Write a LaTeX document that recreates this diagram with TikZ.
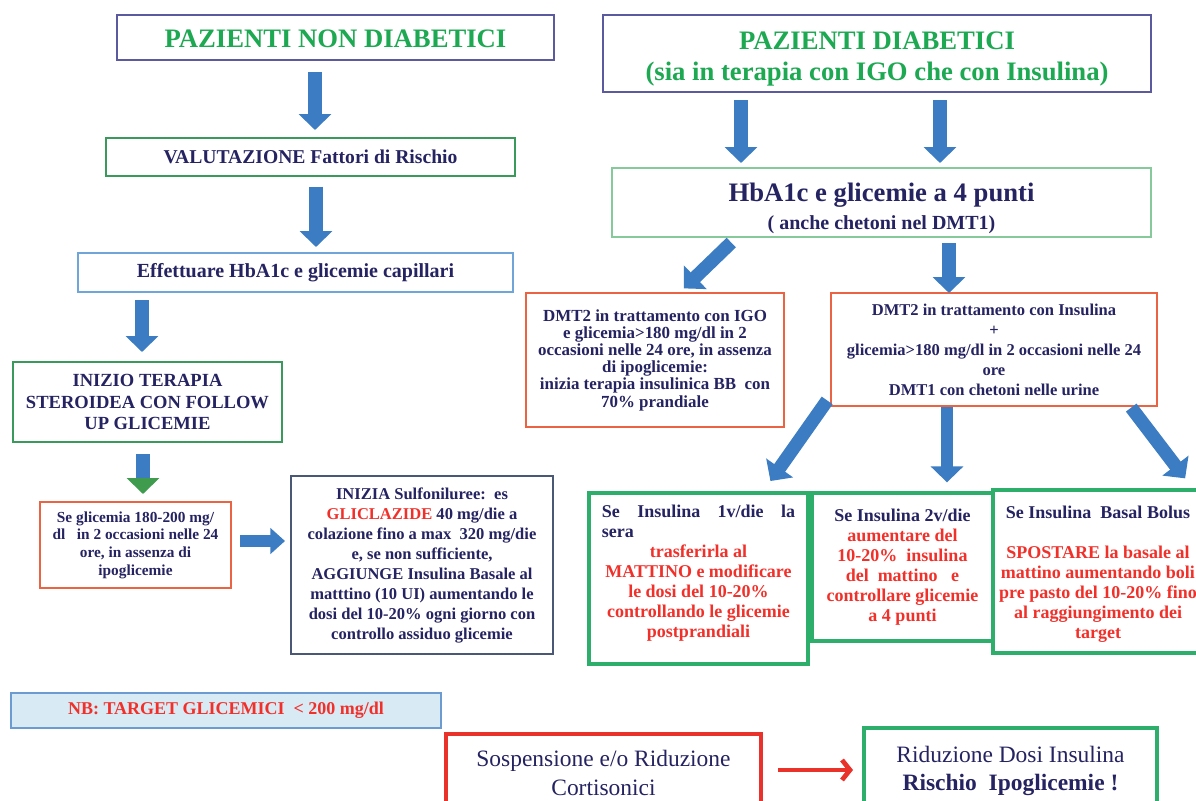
\documentclass[tikz,border=0pt]{standalone}
\usepackage{fontspec}
\setmainfont{Liberation Serif}
\setsansfont{Liberation Sans}
\usetikzlibrary{arrows.meta}
\definecolor{navy}{HTML}{252361}
\definecolor{tgreen}{HTML}{1DA852}
\definecolor{purpleb}{HTML}{5C5A9E}
\definecolor{greenb}{HTML}{3A9A5C}
\definecolor{lgreenb}{HTML}{86C99B}
\definecolor{blueb}{HTML}{6FA5D8}
\definecolor{orangeb}{HTML}{EA6444}
\definecolor{slateb}{HTML}{4B5875}
\definecolor{thickg}{HTML}{2DAE6B}
\definecolor{redt}{HTML}{F2302A}
\definecolor{redb}{HTML}{E8322A}
\definecolor{nbfill}{HTML}{D8EAF4}
\definecolor{nbb}{HTML}{6C9BD2}
\definecolor{arrowblue}{HTML}{3B7CC2}
\definecolor{headgreen}{HTML}{3F9B4E}
\newcommand\rt[1]{\textcolor{redt}{#1}}
\newcommand\bx[7]{\node[#6, minimum width={(#4-#2)*0.75pt}, minimum height={(#5-#3)*0.75pt}] (#1) at ({(#2+#4)/2},{(#3+#5)/2}) {#7};}
\begin{document}
\begin{tikzpicture}[x=0.75pt,y=-0.75pt,
 box/.style={draw, rectangle, inner sep=0pt, outer sep=0pt, align=center, text=navy, line width=1.5pt, fill=white},
 ttl/.style={box, draw=purpleb, text=tgreen, font=\fontsize{20}{23.25}\selectfont\bfseries},
 gbox/.style={box, draw=thickg, line width=3.5pt, font=\fontsize{13.5}{15}\selectfont\bfseries},
 barrow/.style={draw=arrowblue, line width=11pt, -{Triangle[width=24pt,length=12pt]}},
 rarrow/.style={draw=redb, line width=3.5pt, -{Straight Barb[length=6pt,width=15pt]}},
]
\useasboundingbox (0,0) rectangle (1196,800);
\fill[white] (0,0) rectangle (1196,800);

% left column
\bx{t1}{117}{15}{554}{60}{ttl}{\rule{0pt}{15.5pt}PAZIENTI NON DIABETICI}
\bx{v1}{106}{138}{515}{176}{box, draw=greenb, font=\fontsize{14.7}{17}\selectfont\bfseries}{VALUTAZIONE Fattori di Rischio}
\bx{e1}{78}{253}{513}{292}{box, draw=blueb, font=\fontsize{15}{17}\selectfont\bfseries}{Effettuare HbA1c e glicemie capillari}
\bx{i1}{13}{362}{282}{442}{box, draw=greenb, font=\fontsize{13.9}{16}\selectfont\bfseries}{INIZIO TERAPIA\\STEROIDEA CON FOLLOW\\UP GLICEMIE}
\bx{s1}{40}{502}{231}{588}{box, draw=orangeb, font=\fontsize{11.5}{13.3}\selectfont\bfseries}{Se glicemia 180-200 mg/\\dl\ \ \ in 2 occasioni nelle 24\\ore, in assenza di\\ipoglicemie}
\bx{g1}{291}{476}{553}{654}{box, draw=slateb, font=\fontsize{12.4}{15}\selectfont\bfseries}{INIZIA Sulfoniluree:\ \ es\\\rt{GLICLAZIDE} 40 mg/die a\\colazione fino a max\ \ 320 mg/die\\e, se non sufficiente,\\AGGIUNGE Insulina Basale al\\matttino (10 UI) aumentando le\\dosi del 10-20\% ogni giorno con\\controllo assiduo glicemie}

% right column
\bx{t2}{603}{15}{1151}{92}{ttl}{\rule{0pt}{21pt}PAZIENTI DIABETICI\\(sia in terapia con IGO che con Insulina)}
\bx{h1}{612}{168}{1151}{237}{box, draw=lgreenb, font=\fontsize{20}{21}\selectfont\bfseries}{\rule{0pt}{22.5pt}HbA1c e glicemie a 4 punti\\{\fontsize{15}{20.5}\selectfont ( anche chetoni nel DMT1)}}
\bx{d1}{526}{293}{784}{427}{box, draw=orangeb, font=\fontsize{12.7}{12.9}\selectfont\bfseries}{DMT2 in trattamento con IGO\\e glicemia>180 mg/dl in 2\\occasioni nelle 24 ore, in assenza\\di ipoglicemie:\\inizia terapia insulinica BB\ \ con\\70\% prandiale}
\bx{d2}{831}{293}{1157}{406}{box, draw=orangeb, font=\fontsize{12.4}{15}\selectfont\bfseries}{DMT2 in trattamento con Insulina\\+\\glicemia>180 mg/dl in 2 occasioni nelle 24\\ore\\DMT1 con chetoni nelle urine}
\bx{bA}{589}{493}{808}{664}{gbox}{\makebox[145pt][s]{Se Insulina 1v/die la}\\\makebox[145pt][l]{sera}\\\rt{trasferirla al}\\\rt{MATTINO e modificare}\\\rt{le dosi del 10-20\%}\\\rt{controllando le glicemie}\\\rt{postprandiali}\rule[-10.5pt]{0pt}{10.5pt}}
\bx{bB}{812}{493}{993}{641}{gbox}{Se Insulina 2v/die\\\rt{aumentare del}\\\rt{10-20\%\ \ insulina}\\\rt{del\ \ mattino\ \ \ e}\\\rt{controllare glicemie}\\\rt{a 4 punti}}
\bx{bC}{993}{490}{1203}{653}{gbox}{\rule{0pt}{13pt}Se Insulina\ \ Basal Bolus\\\mbox{}\\\rt{SPOSTARE la basale al}\\\rt{mattino aumentando boli}\\\rt{pre pasto del 10-20\% fino}\\\rt{al raggiungimento dei}\\\rt{target}}

% bottom
\bx{nb}{11}{693}{441}{728}{box, draw=nbb, fill=nbfill, text=redt, font=\fontsize{13.5}{15}\selectfont\bfseries}{NB: TARGET GLICEMICI\ \ < 200 mg/dl}
\bx{so}{446}{734}{761}{812}{box, draw=redb, line width=3pt, font=\fontsize{17.6}{22}\selectfont}{Sospensione e/o Riduzione\\Cortisonici}
\bx{ri}{864}{728}{1157}{810}{box, draw=thickg, line width=3pt, font=\fontsize{17.6}{20.5}\selectfont}{\rule{0pt}{15pt}Riduzione Dosi Insulina\\\textbf{Rischio\ \ Ipoglicemie !}}

% arrow guide coordinates
\coordinate (xa1) at (315,0);
\coordinate (xa2) at (316,0);
\coordinate (xa3) at (142,0);
\coordinate (xa4) at (143,0);
\coordinate (ya5) at (0,541);
\coordinate (xa6) at (741,0);
\coordinate (xa7) at (940,0);
\coordinate (xa8s) at (737,0);
\coordinate (xa8e) at (679,0);
\coordinate (xa9) at (949,0);
\coordinate (ya10) at (0,395);
\coordinate (xa10e) at (762,0);
\coordinate (xa11) at (947,0);
\coordinate (xa12s) at (1130,0);
\coordinate (xa12e) at (1194,0);
\coordinate (ya13) at (0,770);

\draw[barrow, shorten <=9pt, shorten >=6pt] (t1.south -| xa1) -- (v1.north -| xa1);
\draw[barrow, shorten <=8pt, shorten >=4.5pt] (v1.south -| xa2) -- (e1.north -| xa2);
\draw[barrow, shorten <=6pt, shorten >=7.5pt] (e1.south -| xa3) -- (i1.north -| xa3);
\draw[barrow, -{Triangle[width=24pt,length=12pt,color=headgreen]}, shorten <=9pt, shorten >=6pt] (i1.south -| xa4) -- (s1.north -| xa4);
\draw[barrow, line width=8.5pt, -{Triangle[width=19pt,length=11pt]}, shorten <=6.75pt, shorten >=4.5pt] (s1.east |- ya5) -- (g1.west |- ya5);
\draw[barrow, shorten <=6pt, shorten >=3.75pt] (t2.south -| xa6) -- (h1.north -| xa6);
\draw[barrow, shorten <=6pt, shorten >=3.75pt] (t2.south -| xa7) -- (h1.north -| xa7);
\draw[barrow, line width=10pt, shorten <=6pt, shorten >=5pt] (h1.south -| xa8s) -- (d1.north -| xa8e);
\draw[barrow, line width=10pt, shorten <=4.5pt, shorten >=0pt] (h1.south -| xa9) -- (d2.north -| xa9);
\draw[barrow, line width=10pt, shorten <=5pt, shorten >=11pt] (d2.west |- ya10) -- (bA.north -| xa10e);
\draw[barrow, line width=9pt, shorten <=0.75pt, shorten >=8pt] (d2.south -| xa11) -- (bB.north -| xa11);
\draw[barrow, line width=10pt, shorten <=1.5pt, shorten >=11pt] (d2.south -| xa12s) -- (bC.north -| xa12e);
\draw[rarrow, shorten <=12.75pt, shorten >=8.25pt] (so.east |- ya13) -- (ri.west |- ya13);
\end{tikzpicture}
\end{document}
